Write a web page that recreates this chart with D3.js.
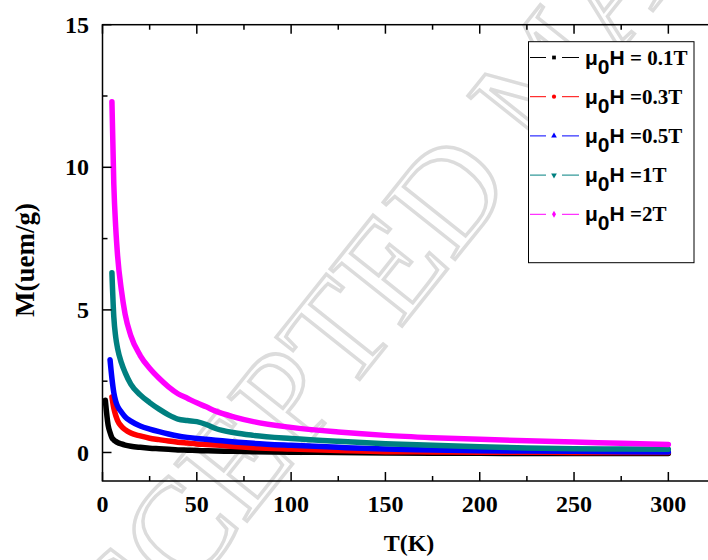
<!DOCTYPE html>
<html>
<head>
<meta charset="utf-8">
<script src="https://cdn.jsdelivr.net/npm/d3@7"></script>
<style>
  html, body { margin: 0; padding: 0; background: #fff; }
  svg { display: block; }
</style>
</head>
<body>
<svg id="chart" width="708" height="560"></svg>
<script>
// Temperature grid (K) shared by all field series
const tempK = [1.5, 3, 4, 5, 6, 7, 8, 10, 12, 15, 20, 25, 30, 35, 40, 45, 50, 55, 60, 70, 80, 100, 125, 150, 175, 200, 225, 250, 275, 300];

// Magnetization M (uem/g) for each applied field; null = not measured
const m01 = [1.83, 0.95, 0.7, 0.52, 0.44, 0.39, 0.35, 0.3, 0.26, 0.22, 0.18, 0.15, 0.13, 0.11, 0.09, 0.08, 0.07, 0.06, 0.05, 0.04, 0.03, 0.01, 0.0, -0.02, -0.03, -0.03, -0.04, -0.04, -0.04, -0.04];
const m03 = [null, null, null, 1.95, 1.55, 1.3, 1.12, 0.92, 0.8, 0.68, 0.58, 0.5, 0.45, 0.4, 0.36, 0.33, 0.3, 0.28, 0.26, 0.21, 0.17, 0.12, 0.07, 0.03, 0.02, 0.01, 0.01, 0.0, 0.0, 0.0];
const m05 = [null, null, 3.25, 2.6, 2.1, 1.8, 1.62, 1.42, 1.25, 1.1, 0.93, 0.82, 0.73, 0.65, 0.58, 0.53, 0.49, 0.46, 0.43, 0.37, 0.32, 0.25, 0.18, 0.12, 0.09, 0.06, 0.05, 0.04, 0.03, 0.02];
const m1 = [null, null, null, 6.3, 4.75, 4.05, 3.65, 3.15, 2.8, 2.4, 2.02, 1.75, 1.52, 1.32, 1.17, 1.12, 1.08, 0.98, 0.84, 0.69, 0.6, 0.49, 0.39, 0.31, 0.25, 0.2, 0.16, 0.13, 0.12, 0.11];
const m2 = [null, null, null, 12.3, 9.4, 7.9, 6.9, 5.7, 4.85, 4.1, 3.4, 2.95, 2.6, 2.3, 2.06, 1.9, 1.74, 1.6, 1.45, 1.24, 1.08, 0.88, 0.72, 0.6, 0.52, 0.46, 0.41, 0.37, 0.32, 0.28];

// Legend text pieces
const fieldLabels = ["= 0.1T", "=0.3T", "=0.5T", "=1T", "=2T"];

// Axis ticks
const xMajor = [0, 50, 100, 150, 200, 250, 300];
const xMinor = [25, 75, 125, 175, 225, 275];
const yMajor = [0, 5, 10, 15];
const yMinor = [2.5, 7.5, 12.5];

const seriesValues = [m01, m03, m05, m1, m2];
const colors = ["#000000", "#ff0000", "#0000ff", "#008080", "#ff00ff"];
const symbols = [d3.symbolSquare, d3.symbolCircle, d3.symbolTriangle, d3.symbolTriangle, d3.symbolDiamond];
const symbolRot = [0, 0, 0, 180, 0];

const svg = d3.select("#chart");
const plotLeft = 102.5, plotRight = 715.5, plotTop = 24.7, plotBottom = 481;

const x = d3.scaleLinear().domain([0, 325]).range([plotLeft, plotRight]);
const y = d3.scaleLinear().domain([-1, 15]).range([plotBottom, plotTop]);

const serif = "'Liberation Serif', 'Times New Roman', serif";
const sans = "'Liberation Sans', Arial, sans-serif";

// Faint diagonal watermark behind the plot
svg.append("text")
  .attr("transform", "translate(545,70) rotate(-51.5)")
  .attr("text-anchor", "middle")
  .attr("dominant-baseline", "central")
  .attr("font-family", serif)
  .attr("font-size", 140)
  .attr("fill", "none")
  .attr("stroke", "#dcdcdc")
  .attr("stroke-width", 3.5)
  .text("ACCEPTED MANUSCRIPT");

// Data lines
const line = d3.line()
  .defined(d => d[1] != null)
  .x(d => x(d[0]))
  .y(d => y(d[1]))
  .curve(d3.curveMonotoneX);

seriesValues.forEach((vals, i) => {
  const pts = tempK.map((t, k) => [t, vals[k]]);
  svg.append("path")
    .datum(pts)
    .attr("d", line)
    .attr("fill", "none")
    .attr("stroke", colors[i])
    .attr("stroke-width", 5.5)
    .attr("stroke-linejoin", "round")
    .attr("stroke-linecap", "round");
});

// Frame and inward ticks
const frame = svg.append("g").attr("stroke", "#000").attr("stroke-width", 1.5).attr("fill", "none");
frame.append("rect")
  .attr("x", plotLeft).attr("y", plotTop)
  .attr("width", plotRight - plotLeft).attr("height", plotBottom - plotTop);

xMajor.forEach(v => {
  frame.append("line").attr("x1", x(v)).attr("x2", x(v)).attr("y1", plotBottom).attr("y2", plotBottom - 9);
  frame.append("line").attr("x1", x(v)).attr("x2", x(v)).attr("y1", plotTop).attr("y2", plotTop + 9);
});
xMinor.forEach(v => {
  frame.append("line").attr("x1", x(v)).attr("x2", x(v)).attr("y1", plotBottom).attr("y2", plotBottom - 5);
  frame.append("line").attr("x1", x(v)).attr("x2", x(v)).attr("y1", plotTop).attr("y2", plotTop + 5);
});
yMajor.forEach(v => {
  frame.append("line").attr("x1", plotLeft).attr("x2", plotLeft + 9).attr("y1", y(v)).attr("y2", y(v));
});
yMinor.forEach(v => {
  frame.append("line").attr("x1", plotLeft).attr("x2", plotLeft + 5).attr("y1", y(v)).attr("y2", y(v));
});

// Tick labels
const labels = svg.append("g")
  .attr("font-family", serif).attr("font-weight", "bold").attr("font-size", 24).attr("fill", "#000");
xMajor.forEach(v => {
  labels.append("text").attr("x", x(v)).attr("y", 512).attr("text-anchor", "middle").text(v);
});
yMajor.forEach(v => {
  labels.append("text").attr("x", 89).attr("y", y(v)).attr("dy", "0.34em").attr("text-anchor", "end").text(v);
});

// Axis titles
svg.append("text")
  .attr("x", (plotLeft + plotRight) / 2).attr("y", 551)
  .attr("text-anchor", "middle")
  .attr("font-family", serif).attr("font-weight", "bold").attr("font-size", 24)
  .text("T(K)");
svg.append("text")
  .attr("transform", "translate(34,260) rotate(-90)")
  .attr("text-anchor", "middle")
  .attr("font-family", serif).attr("font-weight", "bold").attr("font-size", 27)
  .text("M(uem/g)");

// Legend
const lg = svg.append("g");
lg.append("rect")
  .attr("x", 528.5).attr("y", 41.7).attr("width", 165.5).attr("height", 221)
  .attr("fill", "#fff").attr("stroke", "#000").attr("stroke-width", 1);

fieldLabels.forEach((lab, i) => {
  const cy = 57.5 + i * 39.2;
  const row = lg.append("g");
  row.append("line").attr("x1", 530).attr("x2", 546).attr("y1", cy).attr("y2", cy)
    .attr("stroke", colors[i]).attr("stroke-width", 1);
  row.append("line").attr("x1", 562).attr("x2", 579).attr("y1", cy).attr("y2", cy)
    .attr("stroke", colors[i]).attr("stroke-width", 1);
  row.append("path")
    .attr("d", d3.symbol().type(symbols[i]).size(14)())
    .attr("transform", `translate(554,${cy}) rotate(${symbolRot[i]})`)
    .attr("fill", colors[i]);
  const t = row.append("text")
    .attr("x", 585).attr("y", cy + 7)
    .attr("font-weight", "bold").attr("font-size", 21).attr("fill", "#000");
  t.append("tspan").attr("font-family", sans).text("\u03bc");
  t.append("tspan").attr("font-family", sans).attr("dy", 9).text("0");
  t.append("tspan").attr("font-family", sans).attr("dy", -9).text("H");
  t.append("tspan").attr("font-family", serif).text(" " + lab);
});
</script>
</body>
</html>
